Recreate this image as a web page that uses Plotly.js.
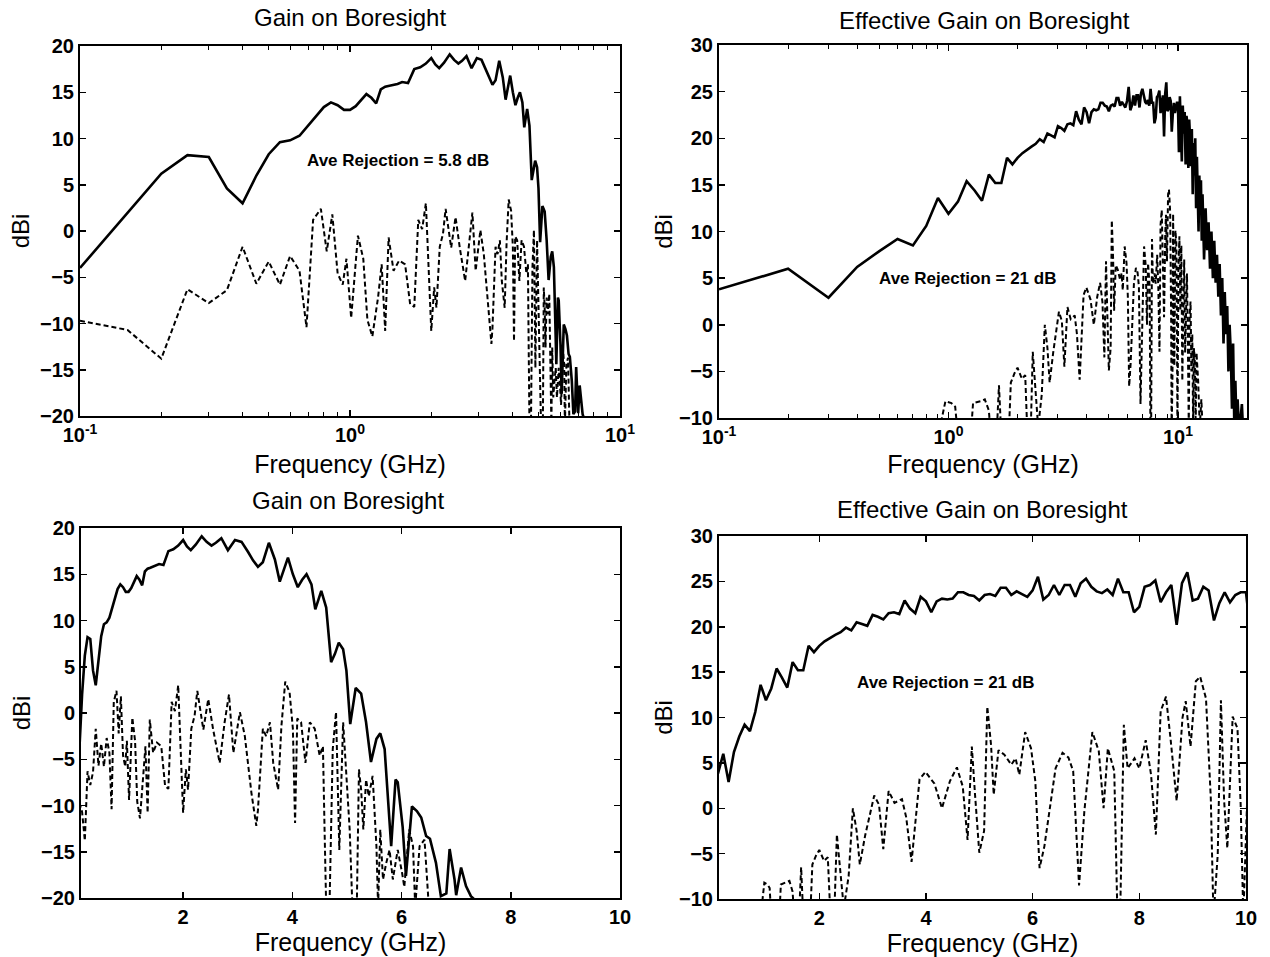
<!DOCTYPE html>
<html>
<head>
<meta charset="utf-8">
<script src="https://cdn.plot.ly/plotly-3.0.1.min.js"></script>
<style>html,body{margin:0;padding:0;background:#fff;}#chart{width:1270px;height:957px;}</style>
</head>
<body>
<div id="chart"></div>
<script>
// ---------- Gain on Boresight (co-pol solid, cross-pol dashed), GHz / dBi ----------
var gainFreq = [0.1,0.15,0.2,0.25,0.3,0.35,0.4,0.45,0.5,0.55,0.6,0.65,0.7,0.75,0.8,0.85,0.9,0.95,1.0,1.05,1.1,1.15,1.2,1.25,1.3,1.35,1.4,1.5,1.56,1.64,1.73,1.82,1.91,2.0,2.07,2.14,2.23,2.34,2.43,2.52,2.6,2.7,2.82,2.95,3.07,3.19,3.28,3.37,3.46,3.57,3.68,3.77,3.85,3.92,4.01,4.1,4.18,4.26,4.35,4.42,4.53,4.62,4.71,4.78,4.85,4.93,4.99,5.06,5.16,5.26,5.35,5.44,5.54,5.61,5.69,5.75,5.81,5.89,5.93,6.02,6.08,6.19,6.28,6.36,6.45,6.52,6.63,6.72,6.82,6.88,6.97,7.0,7.09,7.18,7.27,7.36,7.45];
var gainCo = [-4.0,2.0,6.2,8.2,8.0,4.6,3.0,6.0,8.3,9.6,9.8,10.3,11.4,12.4,13.4,13.9,13.6,13.1,13.1,13.5,14.2,14.8,14.4,13.8,15.3,15.6,15.7,15.9,16.1,16.0,17.5,17.7,18.1,18.7,18.0,17.6,18.2,19.1,18.5,18.1,18.4,18.9,17.6,18.7,18.5,17.4,16.5,15.8,16.3,18.4,16.6,14.2,15.6,16.8,15.0,13.6,14.4,15.0,13.9,11.2,13.2,11.4,5.5,6.4,7.6,6.9,4.6,-1.2,2.7,2.1,-1.0,-5.3,-2.8,-2.2,-3.9,-9.0,-14.4,-7.2,-7.5,-12.3,-17.6,-10.1,-10.6,-11.3,-13.3,-13.6,-16.2,-19.8,-19.5,-14.7,-18.0,-19.7,-16.7,-18.7,-19.8,-20.3,-22.0];

var gainXFreq = [0.1,0.15,0.2,0.25,0.3,0.35,0.4,0.45,0.5,0.55,0.6,0.65,0.69,0.73,0.78,0.82,0.86,0.9,0.94,0.97,1.01,1.07,1.12,1.16,1.21,1.27,1.31,1.35,1.39,1.45,1.52,1.6,1.67,1.73,1.79,1.85,1.91,1.95,2.0,2.05,2.09,2.15,2.21,2.26,2.31,2.37,2.46,2.55,2.67,2.76,2.84,2.92,3.04,3.13,3.25,3.34,3.37,3.46,3.52,3.59,3.65,3.74,3.8,3.87,3.95,4.01,4.05,4.09,4.16,4.24,4.32,4.41,4.5,4.56,4.59,4.62,4.68,4.74,4.8,4.86,4.93,4.99,5.05,5.1,5.18,5.22,5.26,5.3,5.35,5.4,5.47,5.54,5.57,5.61,5.66,5.72,5.78,5.84,5.93,6.01,6.05,6.14,6.21,6.25,6.33,6.42,6.5,6.6];
var gainCross = [-9.7,-10.7,-13.8,-6.3,-7.8,-6.4,-1.7,-5.7,-3.3,-5.8,-2.7,-4.3,-10.4,1.2,2.4,-2.2,1.8,-4.6,-5.8,-3.0,-9.4,-0.5,-3.0,-9.6,-11.4,-7.2,-3.6,-10.8,-0.7,-4.3,-3.2,-3.6,-7.9,-8.2,1.2,0.2,3.0,-3.2,-10.8,-6.1,-8.3,-1.7,-0.3,2.4,0.3,-1.8,1.5,-1.8,-5.4,-1.0,2.0,-4.3,0.1,-2.5,-8.6,-12.2,-10.5,-1.7,-2.5,-1.0,-5.4,-8.3,-1.4,3.4,2.2,-1.7,-11.9,-0.6,-1.0,-5.4,-1.0,-1.7,-4.6,-3.6,-12.6,-21,-21,-3.9,0.1,-14.8,-1.0,-7.2,-12.6,-21,-21,-6.1,-8.3,-12.6,-7.2,-9.0,-6.8,-14.4,-21,-12.6,-18.0,-16.2,-14.8,-18.0,-14.8,-17.3,-18.8,-12.6,-14.4,-21,-14.4,-13.7,-21,-22];

// ---------- Effective Gain on Boresight ----------
var effFreq = [0.1,0.2,0.3,0.4,0.5,0.6,0.7,0.8,0.9,1.0,1.1,1.2,1.3,1.4,1.5,1.6,1.7,1.8,1.9,2.0,2.1,2.2,2.3,2.4,2.5,2.6,2.7,2.8,2.9,3.0,3.1,3.2,3.3,3.4,3.5,3.6,3.7,3.8,3.9,4.0,4.1,4.2,4.3,4.4,4.5,4.6,4.7,4.8,4.9,5.0,5.1,5.2,5.3,5.4,5.5,5.6,5.7,5.8,5.9,6.0,6.1,6.2,6.3,6.4,6.5,6.6,6.7,6.8,6.9,7.0,7.1,7.2,7.3,7.4,7.5,7.6,7.7,7.8,7.9,8.0,8.1,8.2,8.3,8.4,8.5,8.6,8.7,8.8,8.9,9.0,9.1,9.2,9.3,9.4,9.5,9.6,9.7,9.8,9.9,10.0,10.1,10.2,10.3,10.4,10.5,10.6,10.7,10.8,10.9,11.0,11.1,11.2,11.3,11.4,11.5,11.6,11.7,11.8,11.9,12.0,12.1,12.2,12.3,12.4,12.5,12.6,12.7,12.8,12.9,13.0,13.2,13.4,13.6,13.8,14.0,14.2,14.4,14.6,14.8,15.0,15.2,15.4,15.6,15.8,16.0,16.2,16.4,16.6,16.8,17.0,17.2,17.4,17.6,17.8,18.0,18.2,18.4,18.6,19.0,19.2,19.5];
var effCo = [3.8,6.0,2.9,6.2,7.9,9.2,8.5,10.6,13.6,11.9,13.2,15.4,14.4,13.3,16.1,15.2,15.2,17.9,17.2,17.9,18.4,18.8,19.1,19.4,19.9,19.6,20.5,20.3,20.1,21.3,21.1,20.8,21.5,21.6,21.4,22.9,22.0,21.5,23.3,22.8,21.6,22.8,23.1,23.0,23.1,23.8,23.8,23.5,23.4,22.9,23.5,23.6,23.4,24.3,24.3,23.5,23.9,23.6,23.3,24.0,25.5,23.0,23.5,24.6,23.5,24.6,24.6,23.3,24.8,25.3,24.4,23.9,23.7,24.1,23.5,25.3,23.8,23.8,21.6,22.2,24.4,24.6,25.1,22.7,23.8,24.6,20.2,24.8,26.0,22.9,23.1,24.4,24.0,20.7,22.6,23.8,22.7,23.5,23.8,23.8,18.5,24.5,21.0,17.5,23.5,20.5,22.8,17.2,22.4,21.5,16.8,22.0,20.0,17.0,21.0,14.0,19.5,16.0,20.0,12.5,18.0,15.0,10.0,16.0,12.0,15.5,9.0,14.0,11.5,7.0,12.5,8.0,11.0,6.0,10.0,5.0,9.0,4.5,7.5,3.0,6.5,1.0,5.0,-2.0,3.5,-1.0,2.0,-5.0,0.0,-3.0,-9.0,-2.0,-10.5,-6.0,-11.0,-8.0,-10.5,-11.0,-8.5,-11.0,-12.0];

var effXFreq = [0.1,0.5,0.9,0.97,1.03,1.07,1.1,1.25,1.28,1.38,1.44,1.5,1.53,1.62,1.66,1.7,1.83,1.87,1.94,2.0,2.09,2.16,2.21,2.28,2.33,2.4,2.46,2.55,2.63,2.7,2.76,2.86,2.95,3.03,3.12,3.2,3.3,3.41,3.55,3.63,3.73,3.88,3.99,4.16,4.3,4.45,4.58,4.69,4.78,4.86,4.92,5.0,5.09,5.15,5.22,5.27,5.36,5.47,5.6,5.68,5.75,5.86,5.97,6.05,6.13,6.22,6.43,6.56,6.67,6.76,6.87,6.97,7.12,7.24,7.33,7.41,7.53,7.59,7.64,7.71,7.78,7.91,8.0,8.12,8.22,8.31,8.4,8.5,8.59,8.7,8.81,8.87,8.96,9.06,9.14,9.25,9.34,9.39,9.47,9.53,9.59,9.65,9.75,9.84,9.9,9.95,10.05,10.15,10.25,10.35,10.45,10.55,10.65,10.75,10.85,10.95,11.05,11.15,11.25,11.35,11.45,11.55,11.65,11.75,11.85,11.95,12.05,12.25,12.45,12.65,12.85];
var effCross = [-15,-15,-12,-8.2,-8.4,-8.8,-12,-12,-8.4,-8.2,-8.0,-9.2,-12,-12,-6.5,-12,-12,-6.2,-5.2,-4.6,-5.8,-5.4,-12,-12,-2.9,-7.3,-11,-7.5,0.0,-2.5,-6.2,-3.0,-0.5,1.4,0.4,-4.5,1.9,0.6,1.0,-1.0,-5.9,3.2,4.0,2.7,0.0,3.0,4.5,2.4,-3.5,6.8,1.5,-4.9,-2.5,11.2,7.0,1.5,6.4,5.9,4.8,5.5,3.7,8.4,6.6,3.0,-6.6,-4.2,4.4,6.1,5.6,4.1,-8.5,-0.3,8.4,6.3,0.0,6.6,4.1,-12,-12,9.2,4.4,5.5,4.4,7.5,3.7,-2.9,10.7,12.3,7.4,0.8,10.0,11.8,6.8,14.0,14.5,12.1,1.1,-12,-5.1,11.9,0.8,-4.4,10.1,8.8,0.4,-12,6.0,9.5,1.5,8.5,-6,4,7,-3,3,5.5,-2,-11,1,2.5,-5,-1,-11,-2.5,-4,-11,-3,-6,-11,-8,-12];

// ---------- texts / ticks ----------
var titleGain = 'Gain on Boresight';
var titleEff = 'Effective Gain on Boresight';
var xTitle = 'Frequency (GHz)';
var yTitle = 'dBi';
var noteGain = 'Ave Rejection = 5.8 dB';
var noteEff = 'Ave Rejection = 21 dB';
var logTickVals = [0.1, 1, 10];
var logTickText = ['10<sup>-1</sup>', '10<sup>0</sup>', '10<sup>1</sup>'];
var logMinorVals = [0.2,0.3,0.4,0.5,0.6,0.7,0.8,0.9,2,3,4,5,6,7,8,9];
var linTickVals = [2, 4, 6, 8, 10];

var FONT = 'Liberation Sans, Arial, Helvetica, sans-serif';
var solid = {color: '#000', width: 2.6};
var dashed = {color: '#000', width: 2.0, dash: '5px,3px'};

function tr(x, y, xa, ya, line) {
  return {x: x, y: y, xaxis: xa, yaxis: ya, type: 'scatter', mode: 'lines', line: line, hoverinfo: 'skip', showlegend: false};
}
var data = [
  tr(gainFreq, gainCo, 'x', 'y', solid), tr(gainXFreq, gainCross, 'x', 'y', dashed),
  tr(effFreq, effCo, 'x2', 'y2', solid), tr(effXFreq, effCross, 'x2', 'y2', dashed),
  tr(gainFreq, gainCo, 'x3', 'y3', solid), tr(gainXFreq, gainCross, 'x3', 'y3', dashed),
  tr(effFreq, effCo, 'x4', 'y4', solid), tr(effXFreq, effCross, 'x4', 'y4', dashed)
];

var tickFont = {family: FONT, size: 20, color: '#000', weight: 'bold'};
var xTitleFont = {family: FONT, size: 25, color: '#000'};
var yTitleFont = {family: FONT, size: 24, color: '#000'};
function baseAx(extra) {
  var a = {showline: true, linecolor: '#000', linewidth: 2, mirror: 'ticks', ticks: 'inside', ticklen: 6, tickwidth: 1.5, tickcolor: '#000',
    showgrid: false, zeroline: false, tickfont: tickFont, fixedrange: true};
  for (var k in extra) a[k] = extra[k];
  return a;
}
function logX(dom, anchor, maxF, standoff) {
  return baseAx({domain: dom, anchor: anchor, type: 'log', range: [-1, Math.log10(maxF)], tickmode: 'array', tickvals: logTickVals, ticktext: logTickText,
    minor: {tickmode: 'array', tickvals: logMinorVals, ticks: 'inside', ticklen: 4, tickwidth: 1, tickcolor: '#000'},
    title: {text: xTitle, font: xTitleFont, standoff: standoff}});
}
function linX(dom, anchor, lo) {
  return baseAx({domain: dom, anchor: anchor, range: [lo, 10], tickmode: 'array', tickvals: linTickVals,
    title: {text: xTitle, font: xTitleFont, standoff: 0}});
}
function yAx(dom, anchor, lo, hi, standoff) {
  return baseAx({domain: dom, anchor: anchor, range: [lo, hi], tickmode: 'linear', tick0: lo, dtick: 5,
    title: {text: yTitle, font: yTitleFont, standoff: standoff}});
}

var W = 1270, H = 957;
function px(a, b) { return [a / W, b / W]; }
function py(top, bot) { return [1 - bot / H, 1 - top / H]; }
function titleAnn(text, cx, cy) {
  return {text: text, xref: 'paper', yref: 'paper', x: cx / W, y: 1 - cy / H, xanchor: 'center', yanchor: 'middle', showarrow: false, font: {family: FONT, size: 24, color: '#000'}};
}
function noteAnn(text, xr, yr, x, y) {
  return {text: text, xref: xr, yref: yr, x: x, y: y, xanchor: 'center', yanchor: 'middle', showarrow: false, font: {family: FONT, size: 17, weight: 'bold', color: '#000'}};
}

var layout = {
  width: W, height: H, margin: {l: 0, r: 0, t: 0, b: 0}, paper_bgcolor: '#fff', plot_bgcolor: '#fff',
  font: {family: FONT, color: '#000'}, showlegend: false,
  xaxis: logX(px(80, 620), 'y', 10, 10),
  yaxis: yAx(py(46, 416), 'x', -20, 20, 4),
  xaxis2: logX(px(719, 1247), 'y2', 20, 8),
  yaxis2: yAx(py(45, 418), 'x2', -10, 30, 0),
  xaxis3: linX(px(81, 620), 'y3', 0.13),
  yaxis3: yAx(py(528, 898), 'x3', -20, 20, 4),
  xaxis4: linX(px(719, 1246), 'y4', 0.12),
  yaxis4: yAx(py(536, 899), 'x4', -10, 30, 0),
  annotations: [
    titleAnn(titleGain, 350, 18),
    titleAnn(titleEff, 984, 20),
    titleAnn(titleGain, 348, 501),
    titleAnn(titleEff, 982, 509),
    noteAnn(noteGain, 'x', 'y', 0.177, 7.6),
    noteAnn(noteEff, 'x2', 'y2', 0.085, 5.0),
    noteAnn(noteEff, 'x4', 'y4', 4.37, 13.9)
  ]
};

Plotly.newPlot('chart', data, layout, {staticPlot: true, displayModeBar: false});
</script>
</body>
</html>
